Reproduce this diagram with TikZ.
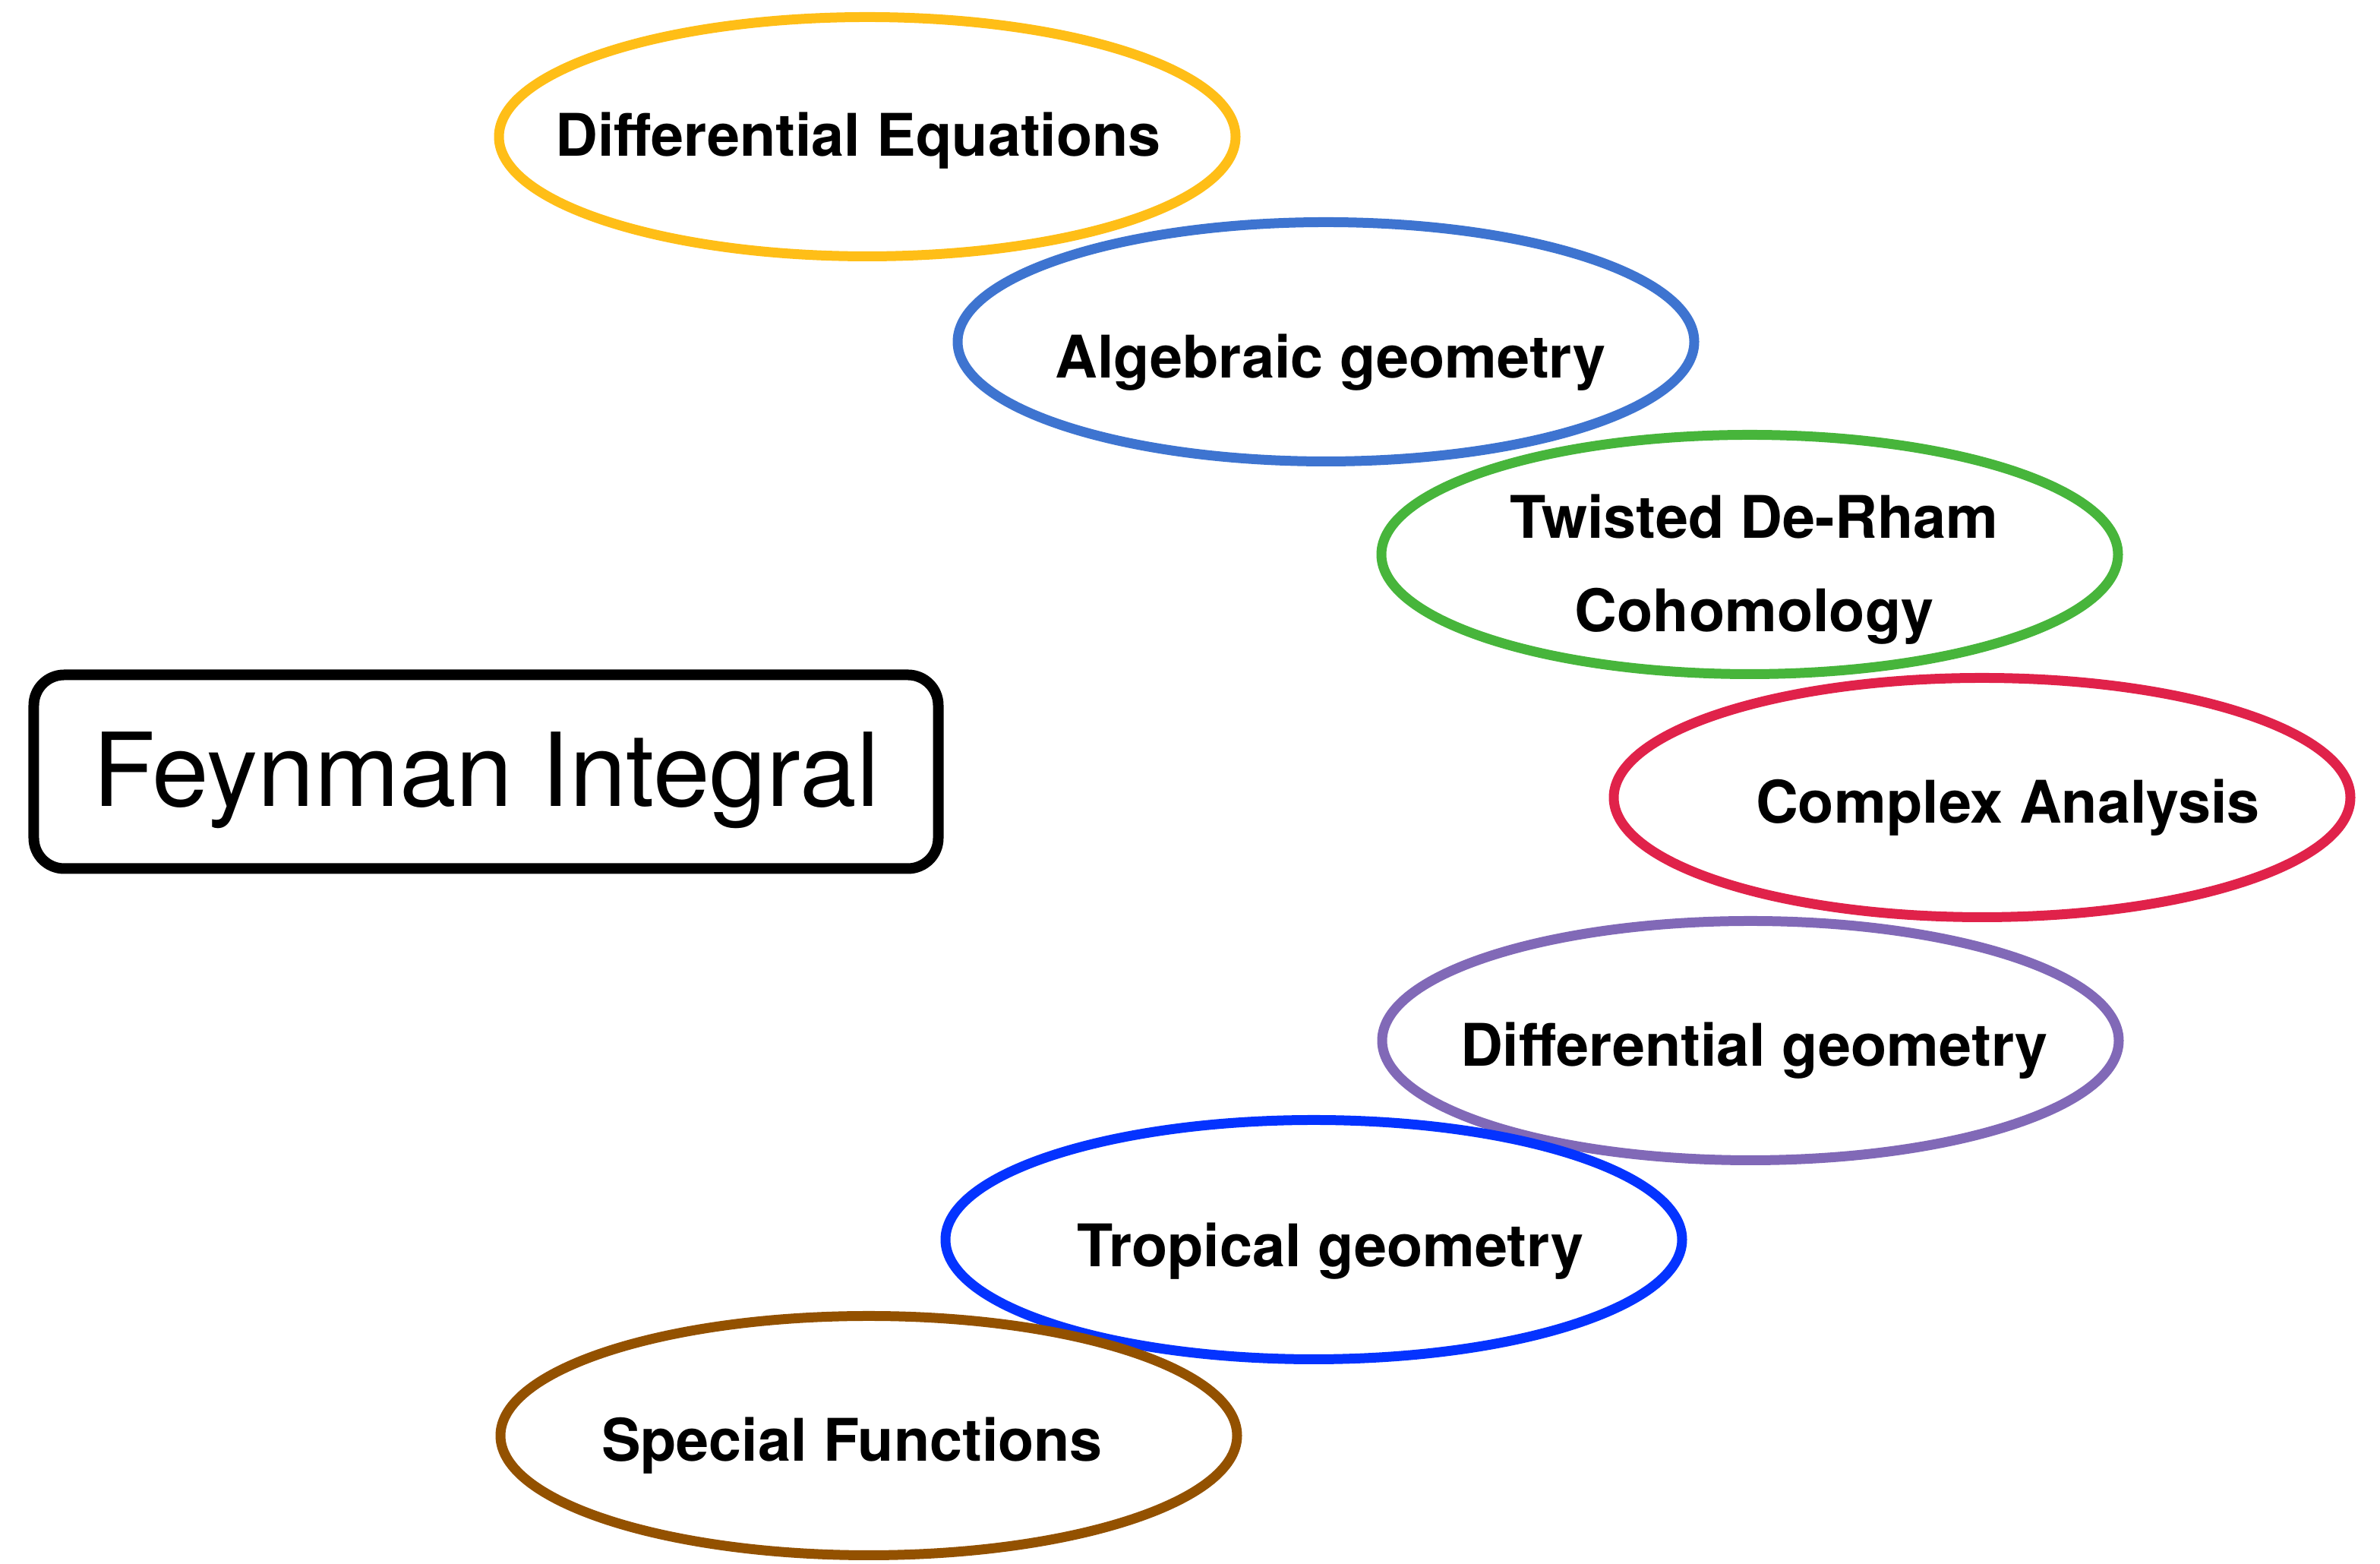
\documentclass[tikz,border=0pt]{standalone}
\usepackage{fontspec}
\setmainfont{TeX Gyre Heros}
\usetikzlibrary{shapes.geometric}

\definecolor{deyellow}{HTML}{FFBE17}
\definecolor{agblue}{HTML}{3E74D0}
\definecolor{twgreen}{HTML}{47B53B}
\definecolor{cared}{HTML}{E0224A}
\definecolor{dgpurple}{HTML}{8169B7}
\definecolor{tgblue}{HTML}{0433FF}
\definecolor{sfbrown}{HTML}{935100}

\tikzset{
  topic/.style={ellipse, draw=#1, line width=1.3mm, minimum width=9.7cm, minimum height=3.15cm, inner sep=0pt},
  lbl/.style={anchor=base, font=\bfseries\fontsize{22}{35}\selectfont, align=center, inner sep=0pt},
}

\begin{document}
\begin{tikzpicture}
  \useasboundingbox (0,0) rectangle (31.34,20.59);
  % the field ellipses, drawn top to bottom
  \foreach \n/\c/\x/\y in {de/deyellow/11.42/18.79, ag/agblue/17.46/16.09, tw/twgreen/23.04/13.29, ca/cared/26.10/10.09, dg/dgpurple/23.05/6.89, tg/tgblue/17.30/4.27, sf/sfbrown/11.44/1.69} {
    \node[topic=\c] (\n) at (\x,\y) {};
  }
  \node[lbl] (de-t) at (11.30,18.53) {Differential Equations};
  \node[lbl] (ag-t) at (17.52,15.61) {Algebraic geometry};
  \node[lbl] (tw-t) at (23.10,12.27) {Twisted De-Rham\\Cohomology};
  \node[lbl] (ca-t) at (26.44,9.75) {Complex Analysis};
  \node[lbl] (dg-t) at (23.10,6.55) {Differential geometry};
  \node[lbl] (tg-t) at (17.52,3.91) {Tropical geometry};
  \node[lbl] (sf-t) at (11.22,1.35) {Special Functions};
  % the main box
  \node[draw, line width=1.4mm, rounded corners=0.4cm, minimum width=11.91cm, minimum height=2.55cm] (fi) at (6.40,10.43) {};
  \node[anchor=base, font=\fontsize{38.2}{45}\selectfont, inner sep=0pt] (fi-t) at (6.40,9.97) {Feynman Integral};
\end{tikzpicture}
\end{document}
